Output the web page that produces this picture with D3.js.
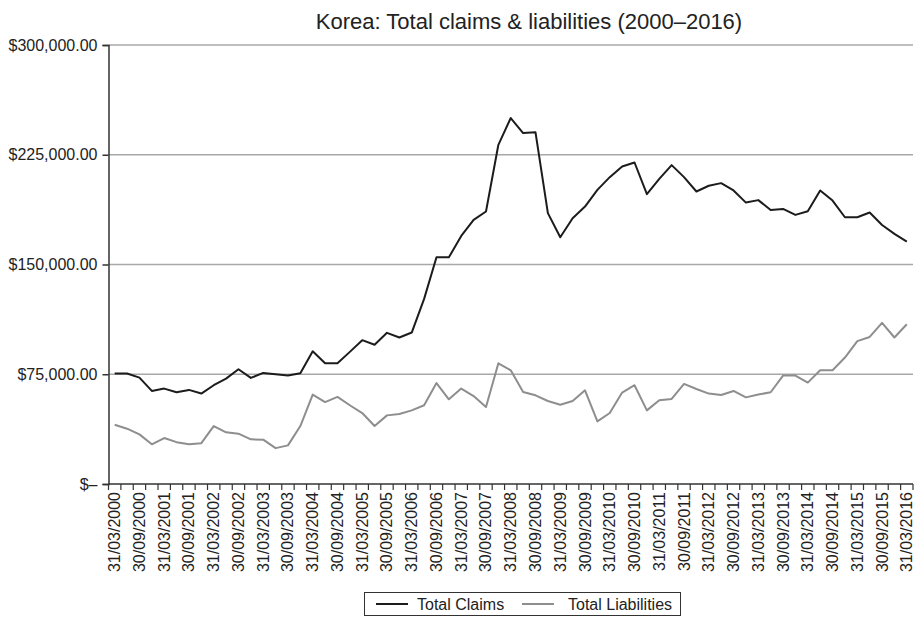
<!DOCTYPE html>
<html><head><meta charset="utf-8">
<script src="https://cdn.jsdelivr.net/npm/d3@7"></script>
<style>body{margin:0;background:#fff}svg{display:block}</style>
</head><body>
<svg id="c" width="920" height="618"></svg>
<script>
const dates = ["31/03/2000","30/06/2000","30/09/2000","31/12/2000","31/03/2001","30/06/2001","30/09/2001","31/12/2001",
"31/03/2002","30/06/2002","30/09/2002","31/12/2002","31/03/2003","30/06/2003","30/09/2003","31/12/2003",
"31/03/2004","30/06/2004","30/09/2004","31/12/2004","31/03/2005","30/06/2005","30/09/2005","31/12/2005",
"31/03/2006","30/06/2006","30/09/2006","31/12/2006","31/03/2007","30/06/2007","30/09/2007","31/12/2007",
"31/03/2008","30/06/2008","30/09/2008","31/12/2008","31/03/2009","30/06/2009","30/09/2009","31/12/2009",
"31/03/2010","30/06/2010","30/09/2010","31/12/2010","31/03/2011","30/06/2011","30/09/2011","31/12/2011",
"31/03/2012","30/06/2012","30/09/2012","31/12/2012","31/03/2013","30/06/2013","30/09/2013","31/12/2013",
"31/03/2014","30/06/2014","30/09/2014","31/12/2014","31/03/2015","30/06/2015","30/09/2015","31/12/2015",
"31/03/2016"];
const totalClaims = [75500,75500,72700,63600,65200,62700,64300,61800,67500,72000,
78400,72500,75900,75000,74100,75700,90700,82500,82500,90300,
98300,95200,103300,100100,103500,126500,154900,154900,169500,180500,
186200,231800,250100,239800,240300,185100,168600,181600,189600,201000,
209700,217000,219700,198100,208500,217900,209700,199900,203800,205600,
200600,192300,194000,187300,188000,183900,186400,200600,193700,182300,
182300,185500,177000,170900,165600];
const totalLiabilities = [40500,37800,33900,27100,31400,28600,27100,27900,39600,35300,
34400,30500,30300,24500,26400,39600,61100,56000,59500,53800,
48500,39600,46900,47800,50300,53800,69000,57900,65200,60100,
52600,82500,77700,62900,60600,56700,54200,56700,64000,42800,
48500,62500,67500,50300,57200,58100,68400,64900,61800,60800,
63600,59200,61100,62700,74100,74100,69300,77700,77700,86400,
97600,100500,110100,100100,109200];
const yTicks = [0,75000,150000,225000,300000];
const yTickLabels = ["$–","$75,000.00","$150,000.00","$225,000.00","$300,000.00"];
const seriesNames = ["Total Claims","Total Liabilities"];
const seriesColors = ["#1c1c1c","#8e8e8e"];
const title = "Korea: Total claims & liabilities (2000–2016)";

const FONT = "'Liberation Sans', Arial, Helvetica, sans-serif";
const svg = d3.select("#c");
const L = 108.5, R = 913, T = 45, B = 484;
const x = d3.scaleBand().domain(dates).range([L, R]).padding(0);
const y = d3.scaleLinear().domain([0, 300000]).range([B, T]);
const cx = d => x(d) + x.bandwidth()/2;

// title
svg.append("text").attr("x", 529).attr("y", 29).attr("text-anchor","middle")
  .attr("font-family", FONT).attr("font-size", 22).attr("fill","#222").text(title);

// gridlines
svg.append("g").selectAll("line").data(yTicks.filter(v=>v>0)).join("line")
  .attr("x1", L).attr("x2", R).attr("y1", d=>y(d)).attr("y2", d=>y(d))
  .attr("stroke","#a8a8a8").attr("stroke-width",1.5);

// y axis
const yAxis = d3.axisLeft(y).tickValues(yTicks).tickSize(6).tickPadding(5)
  .tickFormat((d,i)=>yTickLabels[i]);
const gy = svg.append("g").attr("transform",`translate(${L},0)`).call(yAxis);
gy.select(".domain").attr("stroke","#333").attr("stroke-width",1.5);
gy.selectAll(".tick line").attr("stroke","#333").attr("stroke-width",1.5);
gy.selectAll(".tick text").attr("font-family",FONT).attr("font-size",16).attr("fill","#222");

// x axis line & ticks at category boundaries
const gx = svg.append("g");
gx.append("line").attr("x1",L).attr("x2",R).attr("y1",B).attr("y2",B).attr("stroke","#333").attr("stroke-width",1.5);
const bounds = dates.map(d=>x(d)).concat([R]);
gx.selectAll("line.t").data(bounds).join("line").attr("class","t")
  .attr("x1",d=>d).attr("x2",d=>d).attr("y1",B).attr("y2",B+6)
  .attr("stroke","#333").attr("stroke-width",1.2);
gx.selectAll("text").data(dates.filter((d,i)=>i%2===0)).join("text")
  .attr("transform", d=>`translate(${cx(d)+5.5},${B+8}) rotate(-90)`)
  .attr("text-anchor","end").attr("font-family",FONT).attr("font-size",16).attr("fill","#222")
  .text(d=>d);

// lines
const line = d3.line().x((d,i)=>cx(dates[i])).y(d=>y(d));
[totalLiabilities, totalClaims].forEach((s,k)=>{
  const idx = k===0 ? 1 : 0;
  svg.append("path").datum(s).attr("d",line).attr("fill","none")
    .attr("stroke",seriesColors[idx]).attr("stroke-width",2).attr("stroke-linejoin","round");
});

// legend
const lg = svg.append("g");
lg.append("rect").attr("x",364.5).attr("y",592.5).attr("width",316).attr("height",23)
  .attr("fill","#fff").attr("stroke","#333").attr("stroke-width",1);
const items = [{x:376, tx:417},{x:522, tx:568}];
seriesNames.forEach((n,i)=>{
  lg.append("line").attr("x1",items[i].x).attr("x2",items[i].x+32).attr("y1",604).attr("y2",604)
    .attr("stroke",seriesColors[i]).attr("stroke-width",2);
  lg.append("text").attr("x",items[i].tx).attr("y",609.5).attr("font-family",FONT).attr("font-size",16)
    .attr("fill","#222").text(n);
});
</script>
</body></html>
